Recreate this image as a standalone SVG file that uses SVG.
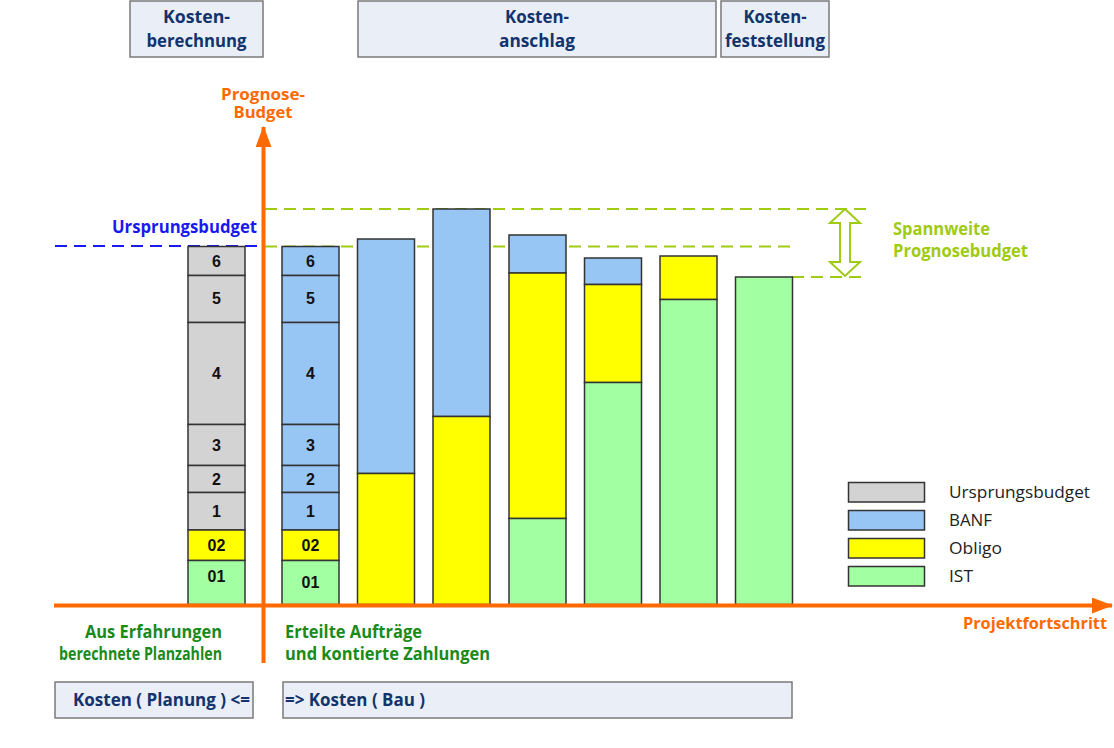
<svg xmlns="http://www.w3.org/2000/svg" width="1114" height="748" viewBox="0 0 1114 748">
<style>
.phase{fill:#e9eef7;stroke:#7a7a7a;stroke-width:1.5}
.ph{font-family:"Open Sans","Liberation Sans",sans-serif;font-weight:bold;font-size:18.5px;fill:#12336c;text-anchor:middle}
.seg{stroke:#333;stroke-width:1.5}
.gray{fill:#d3d3d3}.blue{fill:#97c5f4}.yel{fill:#ffff00}.grn{fill:#a2ffa2}
.num{font-family:"Liberation Sans",Arial,sans-serif;font-weight:bold;font-size:16px;fill:#111;text-anchor:middle}
.gt{font-family:"Open Sans","Liberation Sans",sans-serif;font-weight:bold;font-size:17.5px;fill:#1a8a1a}
.ot{font-family:"Open Sans","Liberation Sans",sans-serif;font-weight:bold;font-size:16px;fill:#ff6a00}
.lt{font-family:"Open Sans","Liberation Sans",sans-serif;font-weight:bold;font-size:17.5px;fill:#9fcb12}
.leg{font-family:"Open Sans","Liberation Sans",sans-serif;font-size:16.5px;fill:#222}
.gd{stroke:#9fcb12;stroke-width:2;stroke-dasharray:12 7;fill:none}
</style>
<defs>
<marker id="arr" markerUnits="userSpaceOnUse" markerWidth="22" markerHeight="16" refX="20" refY="8" orient="auto">
<path d="M0,0 L21,8 L0,16 Z" fill="#ff6a00"/>
</marker>
</defs>
<rect width="1114" height="748" fill="#fff"/>

<g id="phase-berechnung">
<rect class="phase" x="130" y="1" width="133" height="56"/>
<text class="ph" x="196.5" y="23" textLength="67" lengthAdjust="spacingAndGlyphs">Kosten-</text>
<text class="ph" x="196.5" y="47" textLength="100" lengthAdjust="spacingAndGlyphs">berechnung</text>
</g>
<g id="phase-anschlag">
<rect class="phase" x="358" y="1" width="358" height="56"/>
<text class="ph" x="537" y="23" textLength="64" lengthAdjust="spacingAndGlyphs">Kosten-</text>
<text class="ph" x="537" y="47" textLength="76" lengthAdjust="spacingAndGlyphs">anschlag</text>
</g>
<g id="phase-feststellung">
<rect class="phase" x="721" y="1" width="108" height="56"/>
<text class="ph" x="775" y="23" textLength="63" lengthAdjust="spacingAndGlyphs">Kosten-</text>
<text class="ph" x="775" y="47" textLength="100" lengthAdjust="spacingAndGlyphs">feststellung</text>
</g>

<g id="connectors">
<line class="gd" x1="265" y1="209" x2="868" y2="209"/>
<line class="gd" x1="265" y1="246.5" x2="793" y2="246.5"/>
<line class="gd" x1="792" y1="277" x2="864" y2="277"/>
<line x1="55" y1="246" x2="262" y2="246" stroke="#1a1aee" stroke-width="2" stroke-dasharray="12 7"/>
</g>

<g id="spannweite">
<path d="M845,209 L860,223 L850,223 L850,262 L860,262 L845,276 L830,262 L840,262 L840,223 L830,223 Z" fill="#fff" stroke="#9fcb12" stroke-width="2" stroke-linejoin="miter"/>
<text class="lt" x="893" y="235" textLength="97" lengthAdjust="spacingAndGlyphs">Spannweite</text>
<text class="lt" x="893" y="257" textLength="135" lengthAdjust="spacingAndGlyphs">Prognosebudget</text>
</g>

<g id="ursprung-label">
<text x="257" y="233" font-family="Open Sans, Liberation Sans, sans-serif" font-weight="bold" font-size="18" fill="#1a1aee" text-anchor="end" textLength="145" lengthAdjust="spacingAndGlyphs">Ursprungsbudget</text>
</g>

<g id="bar1">
<rect class="seg gray" x="188" y="246.5" width="57" height="29"/>
<rect class="seg gray" x="188" y="275.5" width="57" height="47"/>
<rect class="seg gray" x="188" y="322.5" width="57" height="102"/>
<rect class="seg gray" x="188" y="424.5" width="57" height="41"/>
<rect class="seg gray" x="188" y="465.5" width="57" height="27"/>
<rect class="seg gray" x="188" y="492.5" width="57" height="37.5"/>
<rect class="seg yel" x="188" y="530" width="57" height="30.5"/>
<rect class="seg grn" x="188" y="560.5" width="57" height="44"/>
<text class="num" x="216.5" y="266.5">6</text>
<text class="num" x="216.5" y="303.5">5</text>
<text class="num" x="216.5" y="378.5">4</text>
<text class="num" x="216.5" y="450.5">3</text>
<text class="num" x="216.5" y="484.5">2</text>
<text class="num" x="216.5" y="516.5">1</text>
<text class="num" x="216.5" y="550.5">02</text>
<text class="num" x="216.5" y="581.5">01</text>
</g>

<g id="bar2">
<rect class="seg blue" x="282" y="246.5" width="57" height="29"/>
<rect class="seg blue" x="282" y="275.5" width="57" height="47"/>
<rect class="seg blue" x="282" y="322.5" width="57" height="102"/>
<rect class="seg blue" x="282" y="424.5" width="57" height="41"/>
<rect class="seg blue" x="282" y="465.5" width="57" height="27"/>
<rect class="seg blue" x="282" y="492.5" width="57" height="37.5"/>
<rect class="seg yel" x="282" y="530" width="57" height="30.5"/>
<rect class="seg grn" x="282" y="560.5" width="57" height="44"/>
<text class="num" x="310.5" y="266.5">6</text>
<text class="num" x="310.5" y="303.5">5</text>
<text class="num" x="310.5" y="378.5">4</text>
<text class="num" x="310.5" y="450.5">3</text>
<text class="num" x="310.5" y="484.5">2</text>
<text class="num" x="310.5" y="516.5">1</text>
<text class="num" x="310.5" y="550.5">02</text>
<text class="num" x="310.5" y="587.5">01</text>
</g>

<g id="bar3">
<rect class="seg blue" x="357.5" y="239" width="57" height="234.5"/>
<rect class="seg yel" x="357.5" y="473.5" width="57" height="131"/>
</g>
<g id="bar4">
<rect class="seg blue" x="433" y="209" width="57" height="207.5"/>
<rect class="seg yel" x="433" y="416.5" width="57" height="188"/>
</g>
<g id="bar5">
<rect class="seg blue" x="509" y="235" width="57" height="38"/>
<rect class="seg yel" x="509" y="273" width="57" height="245.5"/>
<rect class="seg grn" x="509" y="518.5" width="57" height="86"/>
</g>
<g id="bar6">
<rect class="seg blue" x="584.5" y="258" width="57" height="26.5"/>
<rect class="seg yel" x="584.5" y="284.5" width="57" height="98"/>
<rect class="seg grn" x="584.5" y="382.5" width="57" height="222"/>
</g>
<g id="bar7">
<rect class="seg yel" x="660" y="256" width="57" height="43.5"/>
<rect class="seg grn" x="660" y="299.5" width="57" height="305"/>
</g>
<g id="bar8">
<rect class="seg grn" x="735.5" y="277" width="57" height="327.5"/>
</g>

<g id="axes">
<line x1="263.5" y1="663" x2="263.5" y2="127" stroke="#ff6a00" stroke-width="4" marker-end="url(#arr)"/>
<line x1="54" y1="605.5" x2="1112" y2="605.5" stroke="#ff6a00" stroke-width="4" marker-end="url(#arr)"/>
<text class="ot" x="263" y="100" text-anchor="middle" textLength="84" lengthAdjust="spacingAndGlyphs">Prognose-</text>
<text class="ot" x="263" y="118" text-anchor="middle" textLength="59" lengthAdjust="spacingAndGlyphs">Budget</text>
<text class="ot" x="1107" y="629" text-anchor="end" textLength="144" lengthAdjust="spacingAndGlyphs">Projektfortschritt</text>
</g>

<g id="legend">
<rect class="seg gray" x="848.5" y="482.5" width="76" height="19.5"/>
<rect class="seg blue" x="848.5" y="510.5" width="76" height="19.5"/>
<rect class="seg yel" x="848.5" y="538.5" width="76" height="19.5"/>
<rect class="seg grn" x="848.5" y="566.5" width="76" height="19.5"/>
<text class="leg" x="949" y="498" textLength="141" lengthAdjust="spacingAndGlyphs">Ursprungsbudget</text>
<text class="leg" x="949" y="526" textLength="43" lengthAdjust="spacingAndGlyphs">BANF</text>
<text class="leg" x="949" y="554" textLength="53" lengthAdjust="spacingAndGlyphs">Obligo</text>
<text class="leg" x="949" y="582" textLength="24" lengthAdjust="spacingAndGlyphs">IST</text>
</g>

<g id="notes">
<text class="gt" x="222" y="638" text-anchor="end" textLength="137" lengthAdjust="spacingAndGlyphs">Aus Erfahrungen</text>
<text class="gt" x="222" y="660" text-anchor="end" textLength="163" lengthAdjust="spacingAndGlyphs">berechnete Planzahlen</text>
<text class="gt" x="285" y="638" textLength="137" lengthAdjust="spacingAndGlyphs">Erteilte Aufträge</text>
<text class="gt" x="285" y="660" textLength="205" lengthAdjust="spacingAndGlyphs">und kontierte Zahlungen</text>
</g>

<g id="kosten-planung">
<rect class="phase" x="55" y="682" width="198" height="36"/>
<text class="ph" x="73" y="706" style="text-anchor:start" textLength="177" lengthAdjust="spacingAndGlyphs">Kosten ( Planung ) &lt;=</text>
</g>
<g id="kosten-bau">
<rect class="phase" x="283" y="682" width="509" height="36"/>
<text class="ph" x="285" y="706" style="text-anchor:start" textLength="140" lengthAdjust="spacingAndGlyphs">=&gt; Kosten ( Bau )</text>
</g>
</svg>
